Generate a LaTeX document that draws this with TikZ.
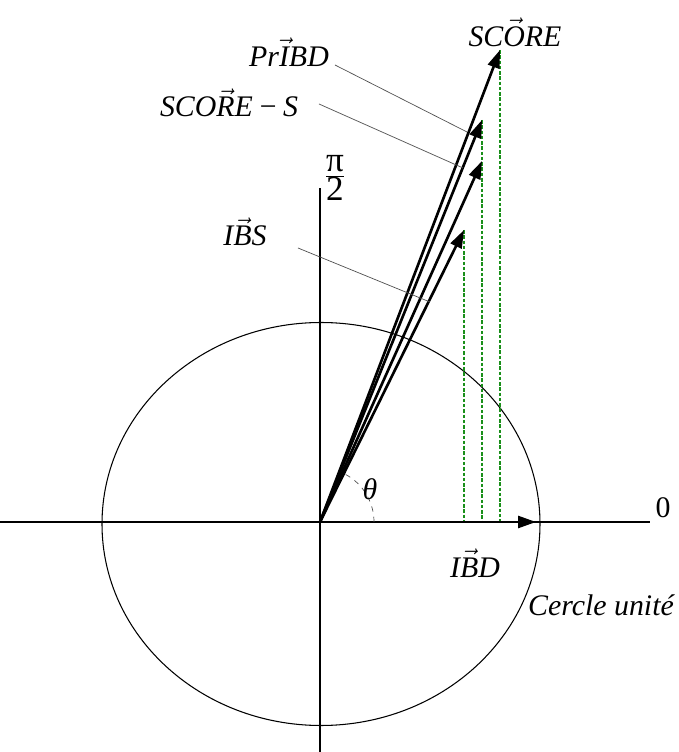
\documentclass[tikz,border=0pt]{standalone}
\usepackage{fontspec}
\setmainfont{Liberation Serif}
\usetikzlibrary{arrows.meta,calc}
\definecolor{guidegreen}{HTML}{1A8F1A}
\definecolor{leadgray}{HTML}{505050}
\newcommand{\vl}[1]{$\vec{\mbox{\itshape #1}}$}

\begin{document}
\begin{tikzpicture}[
    axis/.style={line width=0.7pt},
    vect/.style={-{Triangle[length=3.6mm, width=2.4mm]}, line width=1.5pt},
    proj/.style={dash pattern=on 2pt off 1pt, guidegreen, line width=1pt},
    lead/.style={leadgray, line width=0.4pt},
    lbl/.style={font=\fontsize{17}{19}\selectfont\itshape, inner sep=1pt}
]
\useasboundingbox (-6.4,-4.6) rectangle (7.16,10.44);

% --- points ---
\coordinate (O) at (0,0);
\coordinate (score) at (3.6,9.44);
\coordinate (pribd) at (3.24,8.04);
\coordinate (scores) at (3.24,7.22);
\coordinate (ibs) at (2.88,5.84);
\coordinate (ibd) at (4.32,0);

% --- axes and unit circle ---
\coordinate (xl) at (-6.4,0);
\coordinate (xr) at (6.6,0);
\coordinate (yt) at (0,6.68);
\coordinate (yb) at (0,-4.6);
\draw[axis] (xl) -- (xr);
\draw[axis] (yb) -- (yt);
\draw[line width=0.6pt] (0.02,-0.04) ellipse[x radius=4.38, y radius=4.03];

% --- projections ---
\draw[proj] (score) -- (score |- O);
\draw[proj] (pribd) -- (pribd |- O);
\draw[proj] (ibs) -- (ibs |- O);

% --- vectors ---
\draw[vect] (O) -- (score);
\draw[vect] (O) -- (pribd);
\draw[vect] (O) -- (scores);
\draw[vect] (O) -- (ibs);
\draw[vect] (O) -- (ibd);

% --- angle ---
\draw[lead, dashed] (1.08,0) arc[start angle=0, end angle=66, radius=1.08];

% --- labels ---
\node[lbl] (tscore) at (3.9,9.8) {SC\vl{O}RE};
\node[lbl] (tpribd) at (-0.62,9.4) {Pr\vl{I}BD};
\node[lbl] (tscores) at (-1.82,8.38) {SCO\vl{R}E\,−\,S};
\node[lbl] (tibs) at (-1.5,5.8) {I\vl{B}S};
\node[lbl] (tibd) at (3.1,-0.82) {I\vl{B}D};
\node[lbl] (ttheta) at (1.0,0.66) {θ};
\node[lbl, font=\fontsize{17}{19}\selectfont] (tzero) at (6.86,0.28) {0};
\node[lbl, font=\fontsize{20}{22}\selectfont] (thalfpi) at (0.3,6.88) {$\frac{\mbox{π}}{\mbox{2}}$};
\node[lbl, anchor=west] (tcercle) at (4.12,-1.66) {Cercle unité};

% --- leaders ---
\coordinate (a1) at (0.3,9.14);
\coordinate (b1) at (2.94,7.8);
\coordinate (a2) at (-0.02,8.36);
\coordinate (b2) at (2.86,7.08);
\coordinate (a3) at (-0.44,5.48);
\coordinate (b3) at (2.2,4.4);
\draw[lead] (a1) -- (b1);
\draw[lead] (a2) -- (b2);
\draw[lead] (a3) -- (b3);

\end{tikzpicture}
\end{document}
